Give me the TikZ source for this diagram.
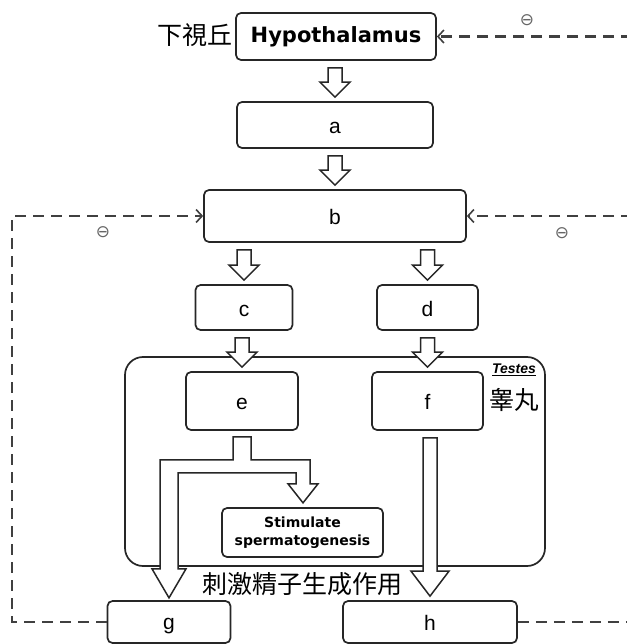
\documentclass[tikz,border=0pt]{standalone}
\usepackage{fontspec}
\setmainfont{Liberation Sans}
\newfontfamily\cjk{Noto Sans CJK TC}
\newfontfamily\dv{DejaVu Sans}
\usetikzlibrary{calc,arrows.meta}
\tikzset{
  box/.style={draw=black!85, line width=1.7pt, rounded corners=5pt, fill=white, inner sep=0pt,
    font=\fontsize{21}{22}\selectfont},
  letterbox/.style={box, text height=17pt, text depth=0pt},
  hollow/.style={draw=black!85, line width=1.5pt, fill=white, line join=miter},
  dashline/.style={draw=black!75, line width=2.2pt, dash pattern=on 11pt off 7pt},
  fb/.style={dashline, -{Straight Barb[length=6pt,width=13pt,line width=1.6pt]}},
  minus/.style={text=black!60, font=\dv\fontsize{17}{17}\selectfont, inner sep=0pt},
  cjklabel/.style={font=\cjk\fontsize{25}{25}\selectfont, inner sep=0pt}
}
\newcommand\harrow[4]{%
  \draw[hollow] let \p1=(#1.south -| #2.north), \p2=(#2.north) in
   (\x1-7pt,\y1-7pt) -- (\x1+7pt,\y1-7pt) -- (\x1+7pt,\y2+4pt+#4) -- (\x1+#3,\y2+4pt+#4)
   -- (\x1,\y2+4pt) -- (\x1-#3,\y2+4pt+#4) -- (\x1-7pt,\y2+4pt+#4) -- cycle;}
\begin{document}
\begin{tikzpicture}[x=1pt,y=-1pt]
\useasboundingbox (0,0) rectangle (626,644);
\fill[white] (0,0) rectangle (626,644);
\coordinate (R) at (632,0);
\coordinate (lc1) at (12,622);
\coordinate (lc2) at (12,216);

% Testes enclosure
\node[draw=black!85, line width=1.7pt, rounded corners=18pt, minimum width=420pt, minimum height=209pt, inner sep=0pt] (testes) at (335,461.5) {};
\node[inner sep=0pt, font=\fontsize{14}{14}\selectfont\bfseries\itshape] (testeslbl) at (514,370) {\underline{Testes}};
\node[cjklabel] (gaowan) at (514,400) {睾丸};

% nodes
\node[box, minimum width=200pt, minimum height=47pt, font=\dv\bfseries\fontsize{21}{22}\selectfont] (hyp) at (336,36.5) {Hypothalamus};
\node[cjklabel, anchor=east] (xsq) at (233,35) {下視丘};
\node[letterbox, minimum width=196pt, minimum height=46pt] (a) at (335,125) {a};
\node[letterbox, minimum width=262pt, minimum height=52pt] (b) at (335,216) {b};
\node[letterbox, minimum width=97pt, minimum height=45pt] (c) at (244,307.5) {c};
\node[letterbox, minimum width=101pt, minimum height=45pt] (d) at (427.5,307.5) {d};
\node[letterbox, minimum width=112pt, minimum height=58pt] (e) at (242,401) {e};
\node[letterbox, minimum width=111pt, minimum height=58pt] (f) at (427.5,401) {f};
\node[box, minimum width=161pt, minimum height=49pt, align=center,
  font=\dv\bfseries\fontsize{14}{18}\selectfont] (stim) at (302.5,532.5) {Stimulate\\spermatogenesis};
\node[letterbox, minimum width=123pt, minimum height=42pt, text height=14pt] (g) at (169,622) {g};
\node[letterbox, minimum width=174pt, minimum height=42pt] (h) at (430,622) {h};

% hollow arrows
\harrow{hyp}{a}{15pt}{15pt}
\harrow{a}{b}{15pt}{15pt}
\harrow{b}{c}{15pt}{15pt}
\harrow{b}{d}{15pt}{15pt}
\harrow{c}{e}{15pt}{15pt}
\harrow{d}{f}{15pt}{15pt}
\harrow{f}{h}{19pt}{25pt}

% branched arrow from e to g and to stimulate box
\draw[hollow] ($(e.south)+(-9,6)$) -- ($(e.south)+(-9,29)$) -- ($(e.south)+(-82,29)$)
  -- ($(e.south)+(-82,138)$) -- ($(e.south)+(-90,138)$) -- ($(e.south)+(-73,167)$)
  -- ($(e.south)+(-56,138)$) -- ($(e.south)+(-64,138)$) -- ($(e.south)+(-64,42)$)
  -- ($(e.south)+(54,42)$) -- ($(e.south)+(54,53)$) -- ($(e.south)+(46,53)$)
  -- ($(e.south)+(61,72)$) -- ($(e.south)+(76,53)$) -- ($(e.south)+(68,53)$)
  -- ($(e.south)+(68,29)$) -- ($(e.south)+(9,29)$) -- ($(e.south)+(9,6)$) -- cycle;

\node[cjklabel] (cj) at (302,584) {刺激精子生成作用};

% feedback lines
\draw[fb] (hyp.east -| R) -- (hyp.east);
\node[minus] (m1) at (527,20) {⊖};
\draw[fb] (b.east -| R) -- (b.east);
\node[minus] (m2) at (562,233) {⊖};
\draw[fb] (g.west) -- (lc1) -- (lc2) -- (b.west);
\node[minus] (m3) at (103,232) {⊖};
\draw[dashline] (h.east) -- (h.east -| R);
\end{tikzpicture}
\end{document}
